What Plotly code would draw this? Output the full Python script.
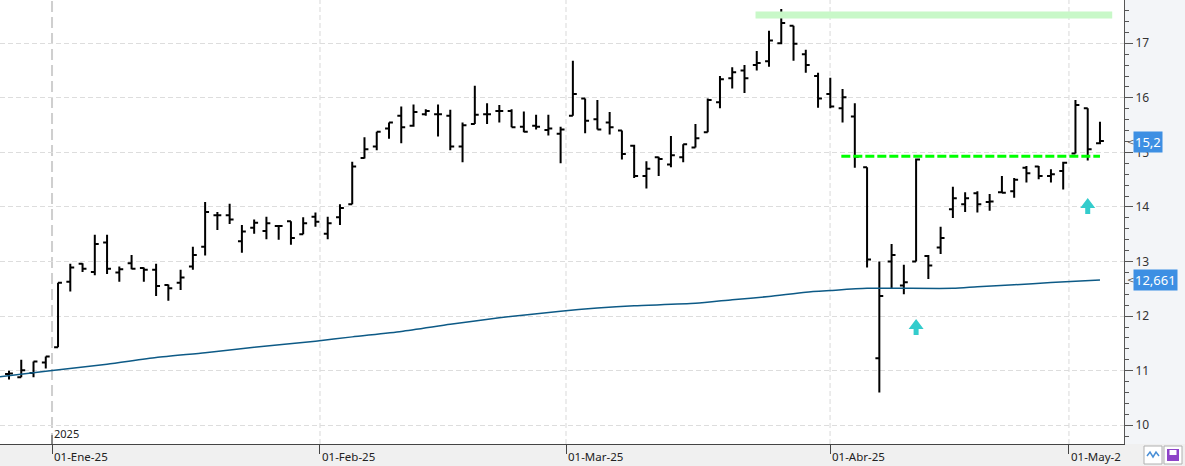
import plotly.graph_objects as go

# ---------------- data ----------------
bar_idx = list(range(90))
opens = [10.94, 10.88, 10.96, 11.15, 11.43, 12.63, 12.96, 12.81, 13.35, 12.80,
         12.97, 12.88, 12.85, 12.57, 12.61, 12.91, 13.27, 13.85, 13.85, 13.37,
         13.62, 13.56, 13.65, 13.74, 13.50, 13.82, 13.51, 13.81, 14.05, 14.90,
         15.11, 15.44, 15.67, 15.49, 15.70, 15.70, 15.67, 15.11, 15.52, 15.70,
         15.76, 15.76, 15.47, 15.49, 15.41, 15.34, 15.67, 15.99, 15.61, 15.55,
         15.40, 15.12, 14.57, 14.91, 14.78, 14.91, 15.09, 15.37, 15.92, 16.36,
         16.50, 16.60, 16.67, 17.00, 17.32, 16.80, 16.40, 16.07, 15.81, 15.66,
         14.73, 11.23, 13.00, 12.56, 13.00, 13.10, 13.26, 13.96, 14.05, 14.25,
         14.09, 14.27, 14.29, 14.72, 14.74, 14.57, 14.66, 14.98, 15.81, 15.17]
highs = [11.00, 11.20, 11.17, 11.26, 12.61, 12.96, 12.97, 13.49, 13.49, 12.91,
         13.12, 12.89, 12.96, 12.58, 12.85, 13.27, 14.09, 13.91, 14.06, 13.67,
         13.77, 13.82, 13.65, 13.74, 13.81, 13.90, 13.82, 14.05, 14.83, 15.28,
         15.38, 15.55, 15.84, 15.88, 15.79, 15.88, 15.78, 15.55, 16.22, 15.90,
         15.87, 15.79, 15.75, 15.69, 15.69, 15.47, 16.68, 15.99, 15.96, 15.74,
         15.40, 15.14, 14.84, 14.92, 15.30, 15.15, 15.52, 15.99, 16.40, 16.56,
         16.60, 16.86, 17.23, 17.63, 17.32, 16.88, 16.46, 16.37, 16.16, 15.90,
         14.73, 13.00, 13.32, 12.94, 14.89, 13.12, 13.64, 14.37, 14.27, 14.29,
         14.24, 14.57, 14.53, 14.75, 14.75, 14.69, 14.83, 15.96, 15.81, 15.56]
lows = [10.84, 10.88, 10.88, 11.04, 11.43, 12.45, 12.81, 12.75, 12.77, 12.63,
        12.86, 12.63, 12.37, 12.28, 12.48, 12.85, 13.11, 13.58, 13.69, 13.16,
        13.51, 13.41, 13.40, 13.31, 13.50, 13.64, 13.41, 13.67, 14.05, 14.89,
        15.04, 15.25, 15.17, 15.47, 15.67, 15.29, 15.04, 14.82, 15.52, 15.52,
        15.55, 15.46, 15.37, 15.42, 15.31, 14.80, 15.67, 15.35, 15.42, 15.33,
        14.87, 14.53, 14.34, 14.57, 14.73, 14.82, 15.09, 15.37, 15.81, 16.17,
        16.09, 16.50, 16.57, 16.98, 16.68, 16.46, 15.82, 15.81, 15.55, 14.72,
        12.89, 10.60, 12.51, 12.40, 13.00, 12.68, 13.14, 13.80, 13.91, 13.90,
        13.93, 14.25, 14.17, 14.45, 14.51, 14.45, 14.32, 14.98, 14.85, 15.15]
closes = [10.95, 11.01, 11.17, 11.26, 12.61, 12.89, 12.87, 13.32, 12.87, 12.86,
          12.87, 12.85, 12.55, 12.51, 12.71, 13.12, 13.91, 13.85, 13.77, 13.55,
          13.71, 13.70, 13.65, 13.43, 13.70, 13.73, 13.70, 13.98, 14.74, 15.06,
          15.38, 15.55, 15.46, 15.74, 15.76, 15.70, 15.11, 15.50, 15.69, 15.70,
          15.76, 15.46, 15.38, 15.47, 15.44, 15.42, 16.07, 15.58, 15.42, 15.46,
          14.97, 14.57, 14.70, 14.88, 14.95, 15.15, 15.26, 15.96, 16.34, 16.47,
          16.36, 16.64, 17.05, 17.37, 16.99, 16.60, 15.99, 15.84, 16.01, 14.92,
          13.04, 12.37, 13.12, 12.62, 14.87, 12.93, 13.43, 14.16, 14.16, 14.05,
          14.10, 14.26, 14.50, 14.62, 14.57, 14.60, 14.81, 15.87, 15.06, 15.21]

# moving average, read at selected bars
ma_idx = [-1, 3, 8, 12, 16, 20, 25, 28, 32, 36, 40, 45, 48, 51, 56, 59, 62, 65,
          67, 70, 77, 79, 82, 85, 89]
ma_val = [10.88, 10.99, 11.12, 11.24, 11.33, 11.43, 11.54, 11.62, 11.72, 11.85,
          11.97, 12.09, 12.15, 12.19, 12.235, 12.30, 12.36, 12.44, 12.47, 12.51,
          12.51, 12.54, 12.575, 12.615, 12.661]

month_labels = ["01-Ene-25", "01-Feb-25", "01-Mar-25", "01-Abr-25", "01-May-2"]
month_pos = [3.51, 25.37, 45.44, 66.98, 86.47]
year_label = "2025"

resistance_level = 17.52
resistance_span = [60.9, 90.0]
support_level = 14.93
support_span = [67.9, 89.0]
signal_idx = [74, 88]
signal_val = [11.655, 13.87]

last_price_label = "15,2"
last_price = 15.2
ma_label = "12,661"
ma_last = 12.661

y_ticks = [10, 11, 12, 13, 14, 15, 16, 17]

# ---------------- figure ----------------
W, H = 1185, 466
ML, MR, MT, MB = 0, 61, 0, 22
PW, PH = W - ML - MR, H - MT - MB

def px_x(px):
    return (px - ML) / PW

def px_y(py):
    return (H - MB - py) / PH

fig = go.Figure()

fig.add_trace(go.Scatter(
    x=ma_idx, y=ma_val, mode="lines", line_shape="spline",
    line=dict(color="#0d5a86", width=1.5, smoothing=0.6),
    hoverinfo="skip", showlegend=False))

fig.add_trace(go.Ohlc(
    x=bar_idx, open=opens, high=highs, low=lows, close=closes,
    increasing=dict(line=dict(color="#000000", width=2)),
    decreasing=dict(line=dict(color="#000000", width=2)),
    tickwidth=0.32, showlegend=False))

shapes = []
# bottom strip background
shapes.append(dict(type="rect", xref="paper", yref="paper",
                   x0=px_x(0), x1=px_x(W), y0=px_y(H), y1=px_y(444),
                   fillcolor="#f0f0f0", line=dict(width=0), layer="below"))
# month grid lines
for p in month_pos[1:]:
    shapes.append(dict(type="line", xref="x", yref="paper", x0=p, x1=p, y0=0, y1=1,
                       line=dict(color="#d9d9d9", width=1, dash="5px,3px"), layer="below"))
# year boundary line
shapes.append(dict(type="line", xref="x", yref="paper", x0=month_pos[0], x1=month_pos[0],
                   y0=0, y1=1, line=dict(color="#cfcfcf", width=2, dash="11px,5px"),
                   layer="below"))
shapes.append(dict(type="line", xref="x", yref="paper", x0=month_pos[0], x1=month_pos[0],
                   y0=0, y1=px_y(435), line=dict(color="#444444", width=1)))
# resistance band
shapes.append(dict(type="line", xref="x", yref="y",
                   x0=resistance_span[0], x1=resistance_span[1],
                   y0=resistance_level, y1=resistance_level,
                   line=dict(color="#c8f8c8", width=7)))
# support dashed line
shapes.append(dict(type="line", xref="x", yref="y",
                   x0=support_span[0], x1=support_span[1],
                   y0=support_level, y1=support_level,
                   line=dict(color="#00ff00", width=3, dash="9px,3px")))
# signal arrows
arrow_path = "M -2.5 0 L 2.5 0 L 2.5 6 L 7.5 6 L 0 16 L -7.5 6 L -2.5 6 Z"
for xi, yv in zip(signal_idx, signal_val):
    shapes.append(dict(type="path", xref="x", yref="y",
                       xsizemode="pixel", ysizemode="pixel",
                       xanchor=xi, yanchor=yv, path=arrow_path,
                       fillcolor="#33cccc", line=dict(width=0)))
# bottom-right buttons
shapes.append(dict(type="rect", xref="paper", yref="paper",
                   x0=px_x(1144), x1=px_x(1162), y0=px_y(464), y1=px_y(446),
                   fillcolor="#ffffff", line=dict(color="#b0b0b0", width=1)))
shapes.append(dict(type="path", xref="paper", yref="paper",
                   path="M {} {} L {} {} L {} {} L {} {} L {} {}".format(
                       px_x(1147), px_y(456), px_x(1150), px_y(452), px_x(1153), px_y(457),
                       px_x(1156), px_y(452), px_x(1159), px_y(456)),
                   line=dict(color="#4a8fd6", width=1.5)))
shapes.append(dict(type="rect", xref="paper", yref="paper",
                   x0=px_x(1164), x1=px_x(1182), y0=px_y(464), y1=px_y(446),
                   fillcolor="#ffffff", line=dict(color="#b0b0b0", width=1)))
shapes.append(dict(type="rect", xref="paper", yref="paper",
                   x0=px_x(1167), x1=px_x(1179), y0=px_y(461), y1=px_y(449),
                   fillcolor="#8e44c8", line=dict(width=0)))
shapes.append(dict(type="rect", xref="paper", yref="paper",
                   x0=px_x(1169.5), x1=px_x(1176.5), y0=px_y(455), y1=px_y(450),
                   fillcolor="#ffffff", line=dict(width=0)))

annotations = []
for lab, p in zip(month_labels, month_pos):
    annotations.append(dict(text=lab, x=p, xref="x", y=0, yref="paper",
                            xanchor="left", yanchor="top", xshift=0, yshift=-3,
                            showarrow=False,
                            font=dict(family="Noto Sans", size=11.5, color="#222222")))
annotations.append(dict(text=year_label, x=month_pos[0], xref="x", y=0, yref="paper",
                        xanchor="left", yanchor="bottom", xshift=0, yshift=1,
                        showarrow=False,
                        font=dict(family="Noto Sans", size=11, color="#222222")))
for lab, val in [(last_price_label, last_price), (ma_label, ma_last)]:
    annotations.append(dict(text=lab, x=px_x(1133), xref="paper", y=val, yref="y",
                            xanchor="left", yanchor="middle", showarrow=False,
                            bgcolor="#3d8fe3", borderpad=1,
                            font=dict(family="Noto Sans", size=13, color="#ffffff")))
    annotations.append(dict(text="<", x=px_x(1125), xref="paper", y=val, yref="y",
                            xanchor="left", yanchor="middle", showarrow=False,
                            font=dict(family="DejaVu Sans", size=9, color="#555555")))

fig.update_layout(
    width=W, height=H,
    margin=dict(l=ML, r=MR, t=MT, b=MB, pad=0),
    paper_bgcolor="#f3f5f8", plot_bgcolor="#ffffff",
    showlegend=False, hovermode=False,
    shapes=shapes, annotations=annotations,
    xaxis=dict(range=[-0.734, 90.96], rangeslider=dict(visible=False),
               showgrid=False, zeroline=False, showticklabels=False,
               tickmode="array", tickvals=month_pos, ticks="outside", ticklen=9,
               tickcolor="#444444", showline=True, linecolor="#444444", linewidth=1,
               fixedrange=True),
    yaxis=dict(range=[9.657, 17.793], side="right", tickmode="array", tickvals=y_ticks,
               ticktext=[str(v) for v in y_ticks],
               ticks="outside", ticklen=8, tickcolor="#555555",
               minor=dict(dtick=0.2, ticks="outside", ticklen=4, tickcolor="#555555",
                          showgrid=False),
               showgrid=True, gridcolor="#dddddd", griddash="5px,3px", gridwidth=1,
               zeroline=False, showline=True, linecolor="#555555", linewidth=1,
               tickfont=dict(family="Noto Sans", size=12, color="#333333"),
               fixedrange=True),
)

fig.write_html("out.html")
